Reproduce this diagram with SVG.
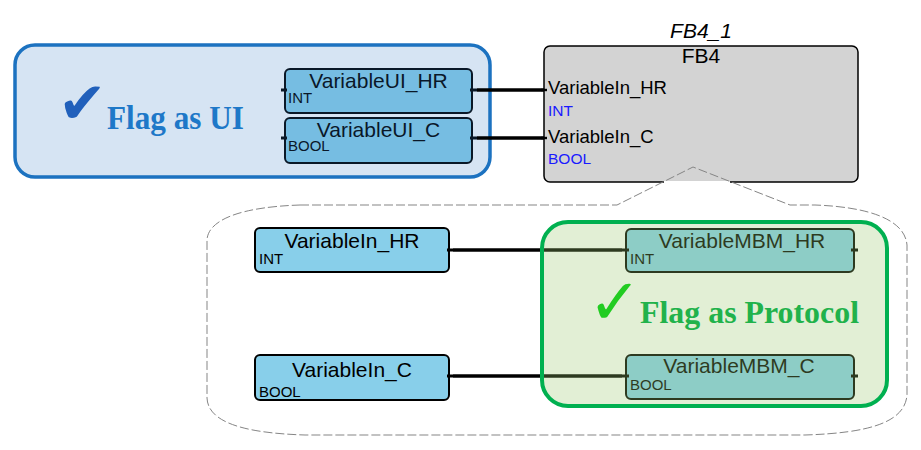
<svg xmlns="http://www.w3.org/2000/svg" width="921" height="450" viewBox="0 0 921 450">
<style>
.name{font-family:"Liberation Sans",Arial,sans-serif;font-size:21px;fill:#000;text-anchor:middle}
.type{font-family:"Liberation Sans",Arial,sans-serif;font-size:15px;fill:#000}
.pin{font-family:"Liberation Sans",Arial,sans-serif;font-size:18.5px;fill:#000}
.pintype{font-family:"Liberation Sans",Arial,sans-serif;font-size:15.5px;fill:#1a1aff}
.var{fill:#88cfea;stroke:#000;stroke-width:2}
.stub{fill:#000}
.wire{stroke:#000;stroke-width:3.5;fill:none}
.flag{font-family:"Liberation Serif","Times New Roman",serif;font-weight:bold}
.check{font-family:"DejaVu Sans",sans-serif}
</style>

<!-- UI variable nodes -->
<g id="VariableUI_HR">
<rect class="var" x="285" y="69" width="187" height="44" rx="5"/>
<rect class="stub" x="281" y="88.5" width="6" height="3"/>
<rect class="stub" x="470" y="88.5" width="7" height="3"/>
<text class="name" x="378.5" y="88">VariableUI_HR</text>
<text class="type" x="288" y="103">INT</text>
</g>
<g id="VariableUI_C">
<rect class="var" x="285" y="118" width="187" height="45" rx="5"/>
<rect class="stub" x="281" y="136.5" width="6" height="3"/>
<rect class="stub" x="470" y="136.5" width="7" height="3"/>
<text class="name" x="378.5" y="137">VariableUI_C</text>
<text class="type" x="288" y="151">BOOL</text>
</g>

<!-- Flag as UI highlight -->
<g id="flag-ui">
<rect x="15" y="45" width="475" height="132" rx="20" fill="#3278c3" fill-opacity="0.2" stroke="#1c72c0" stroke-width="3.5"/>
<text class="check" x="58" y="123" font-size="58" fill="#2160bb">✔</text>
<text class="flag" x="107" y="129" font-size="33" fill="#1e78c8" textLength="137" lengthAdjust="spacingAndGlyphs">Flag as UI</text>
</g>

<!-- callout fill (under FB4) -->
<path id="callout-fill" d="M300,205 L617,205 L693,167 L790,205 L815,205 C870,207 905,220 907,245 L907,395 C905,422 870,433 805,435 L305,435 C240,433 208,421 207,398 L207,240 C208,220 240,207 300,205 Z" fill="#fff"/>

<!-- FB4 function block -->
<g id="FB4_1">
<text x="701" y="38" font-family="Liberation Sans,Arial,sans-serif" font-size="21" font-style="italic" text-anchor="middle">FB4_1</text>
<rect x="544" y="46" width="314" height="136" rx="6" fill="#d3d3d3" stroke="#000" stroke-width="1.5"/>
<text x="701" y="63" font-family="Liberation Sans,Arial,sans-serif" font-size="21" text-anchor="middle">FB4</text>
<rect class="stub" x="541" y="88.8" width="6" height="2.4"/>
<rect class="stub" x="541" y="136.8" width="6" height="2.4"/>
<text class="pin" x="548" y="94">VariableIn_HR</text>
<text class="pintype" x="548" y="116">INT</text>
<text class="pin" x="548" y="143">VariableIn_C</text>
<text class="pintype" x="548" y="164">BOOL</text>
<rect x="664" y="181" width="66" height="2.2" fill="#fff"/>
</g>

<!-- callout outline -->
<path id="callout" d="M300,205 L617,205 L693,167 L790,205 L815,205 C870,207 905,220 907,245 L907,395 C905,422 870,433 805,435 L305,435 C240,433 208,421 207,398 L207,240 C208,220 240,207 300,205 Z" fill="none" stroke="#858585" stroke-width="1" stroke-dasharray="9 3"/>

<!-- inner variable nodes -->
<g id="VariableIn_HR">
<rect class="var" x="255" y="228" width="194" height="44" rx="5"/>
<rect class="stub" x="447" y="248.5" width="6" height="3"/>
<text class="name" x="352" y="248">VariableIn_HR</text>
<text class="type" x="259" y="264">INT</text>
</g>
<g id="VariableIn_C">
<rect class="var" x="255" y="355" width="194" height="45" rx="5"/>
<rect class="stub" x="447" y="374.5" width="6" height="3"/>
<text class="name" x="352" y="377">VariableIn_C</text>
<text class="type" x="259" y="397">BOOL</text>
</g>
<g id="VariableMBM_HR">
<rect class="var" x="626" y="229" width="228" height="43" rx="5"/>
<rect class="stub" x="622" y="248.5" width="7" height="3"/>
<rect class="stub" x="851" y="248.5" width="7" height="3"/>
<text class="name" x="742" y="248">VariableMBM_HR</text>
<text class="type" x="630" y="264">INT</text>
</g>
<g id="VariableMBM_C">
<rect class="var" x="626" y="355" width="228" height="44" rx="5"/>
<rect class="stub" x="622" y="374.5" width="7" height="3"/>
<rect class="stub" x="851" y="374.5" width="7" height="3"/>
<text class="name" x="739" y="373">VariableMBM_C</text>
<text class="type" x="630" y="390">BOOL</text>
</g>

<!-- connectors -->
<g id="connectors">
<line class="wire" x1="477" y1="90" x2="544" y2="90" stroke-width="3"/>
<line class="wire" x1="477" y1="138" x2="544" y2="138" stroke-width="3"/>
<line class="wire" x1="453" y1="250" x2="622" y2="250"/>
<line class="wire" x1="453" y1="376" x2="622" y2="376"/>
</g>

<!-- Flag as Protocol highlight -->
<g id="flag-protocol">
<rect x="542" y="222" width="345" height="184" rx="26" fill="#9bc86e" fill-opacity="0.29" stroke="#00b050" stroke-width="4"/>
<text class="check" x="588" y="324" font-size="64" fill="#22cc22">✓</text>
<text class="flag" x="640" y="323" font-size="32" fill="#21b24b" textLength="219" lengthAdjust="spacingAndGlyphs">Flag as Protocol</text>
</g>
</svg>
